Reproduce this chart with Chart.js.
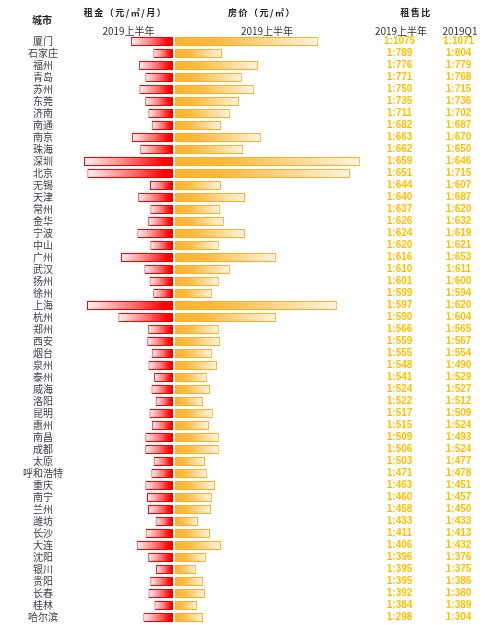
<!DOCTYPE html>
<html>
<head>
<meta charset="utf-8">
<script src="https://cdn.jsdelivr.net/npm/chart.js@4/dist/chart.umd.min.js"></script>
<style>
  html, body { margin: 0; padding: 0; background: #fff; }
  #wrap { position: relative; width: 485px; height: 625px; }
</style>
</head>
<body>
<div id="wrap"><canvas id="canvas"></canvas></div>
<script>
// city list, top to bottom
const cities = ["厦门", "石家庄", "福州", "青岛", "苏州", "东莞", "济南", "南通", "南京", "珠海",
  "深圳", "北京", "无锡", "天津", "常州", "金华", "宁波", "中山", "广州", "武汉",
  "扬州", "徐州", "上海", "杭州", "郑州", "西安", "烟台", "泉州", "泰州", "威海",
  "洛阳", "昆明", "惠州", "南昌", "成都", "太原", "呼和浩特", "重庆", "南宁", "兰州",
  "潍坊", "长沙", "大连", "沈阳", "银川", "贵阳", "长春", "桂林", "哈尔滨"];

// rent, yuan / m2 / month (2019 H1)
const rent = [42.1, 19.6, 33.9, 27.6, 33.6, 27.7, 24.6, 21.3, 41.1, 32.7,
  89.0, 85.6, 23.0, 34.8, 22.6, 24.8, 35.6, 22.6, 52.0, 28.6,
  23.4, 19.7, 86.0, 54.6, 24.8, 25.7, 21.3, 24.5, 18.9, 21.5,
  17.3, 23.5, 21.2, 27.6, 27.7, 19.3, 21.6, 27.6, 26.0, 25.0,
  17.4, 27.4, 36.3, 24.8, 17.1, 22.7, 24.5, 18.5, 29.6];

// house price, yuan / m2 (2019 H1)
const price = [45300, 14900, 26300, 21200, 25000, 20300, 17400, 14600, 27300, 21600,
  58600, 55500, 14600, 22200, 14300, 15500, 22200, 13900, 32000, 17400,
  13900, 11700, 51400, 32000, 13900, 14300, 11700, 13300, 10100, 11100,
  8900, 12000, 10800, 13900, 13900, 9500, 10100, 12700, 11700, 11400,
  7300, 11100, 14600, 9800, 6700, 8900, 9500, 7000, 8900];

// rent-to-price ratio, 1 : n
const ratioH1 = [1075, 789, 776, 771, 750, 735, 711, 682, 663, 662,
  659, 651, 644, 640, 637, 626, 624, 620, 616, 610,
  601, 599, 597, 590, 566, 559, 555, 548, 541, 524,
  522, 517, 515, 509, 506, 503, 471, 463, 460, 458,
  433, 411, 406, 396, 395, 395, 392, 384, 298];
const ratioQ1 = [1071, 804, 779, 768, 715, 736, 702, 687, 670, 650,
  646, 715, 607, 687, 620, 632, 619, 621, 653, 611,
  600, 594, 620, 604, 565, 567, 554, 490, 529, 527,
  512, 509, 524, 493, 524, 477, 478, 451, 457, 450,
  433, 413, 432, 376, 375, 386, 380, 389, 304];

const CJK = '"Noto Sans CJK SC", "Liberation Sans", sans-serif';
const LAT = '"Liberation Sans", Arial, sans-serif';
const GOLD = "#FFC000";

// gradient per bar, built from the bar's own span on its scale
function rentFill(c) {
  const chart = c.chart;
  if (c.type !== "data" || !chart.chartArea) return "#ff0000";
  const s = chart.scales.xr;
  const a = s.getPixelForValue(c.raw), b = s.getPixelForValue(0);
  const g = chart.ctx.createLinearGradient(a, 0, b, 0);
  g.addColorStop(0, "#fff4f4");
  g.addColorStop(0.55, "#ff6a6a");
  g.addColorStop(0.9, "#ff0000");
  g.addColorStop(1, "#ff0000");
  return g;
}
function priceFill(c) {
  const chart = c.chart;
  if (c.type !== "data" || !chart.chartArea) return "#fdb42c";
  const s = chart.scales.xp;
  const a = s.getPixelForValue(0), b = s.getPixelForValue(c.raw);
  const g = chart.ctx.createLinearGradient(a, 0, b, 0);
  g.addColorStop(0, "#fdb22a");
  g.addColorStop(0.3, "#fdbb41");
  g.addColorStop(1, "#fff4e2");
  return g;
}

// header texts above the columns
const headers = {
  id: "headers",
  afterDraw(chart) {
    const ctx = chart.ctx;
    const {y, xr, xp, r1, r2} = chart.scales;
    ctx.save();
    ctx.textAlign = "center";
    ctx.textBaseline = "middle";
    ctx.fillStyle = "#222";
    ctx.font = "bold 10px " + CJK;
    ctx.fillText("城市", (y.left + y.right) / 2, 20);
    ctx.font = "bold 9px " + CJK;
    ctx.letterSpacing = "1.5px";
    ctx.fillText("租金（元/㎡/月）", (xr.left + xr.right) / 2 - 4, 13);
    ctx.fillText("房价（元/㎡）", (xp.left + xp.right) / 2 - 8, 13);
    ctx.fillText("租售比", r1.right - 15, 13);
    ctx.letterSpacing = "0px";
    ctx.fillStyle = "#333";
    ctx.font = "10px " + CJK;
    ctx.fillText("2019上半年", (xr.left + xr.right) / 2 - 1, 31);
    ctx.fillText("2019上半年", (xp.left + xp.right) / 2 - 3, 31);
    ctx.fillText("2019上半年", r1.left + 36, 31);
    ctx.fillText("2019Q1", r2.left + 29, 31);
    ctx.restore();
  }
};

function noPad(scale) {
  scale.paddingTop = 0;
  scale.paddingBottom = 0;
}

const options = {
  type: "bar",
  data: {
    labels: cities,
    datasets: [
      {
        data: rent,
        xAxisID: "xr",
        backgroundColor: rentFill,
        borderColor: "#ff0000",
        borderWidth: 1,
        grouped: false,
        barPercentage: 0.76,
        categoryPercentage: 1
      },
      {
        data: price,
        xAxisID: "xp",
        backgroundColor: priceFill,
        borderColor: "#f8b02c",
        borderWidth: 1,
        grouped: false,
        barPercentage: 0.76,
        categoryPercentage: 1
      }
    ]
  },
  options: {
    indexAxis: "y",
    responsive: true,
    maintainAspectRatio: false,
    animation: false,
    layout: { padding: { top: 35.5, bottom: 1.5, left: 0, right: 0 } },
    plugins: {
      legend: { display: false },
      tooltip: { enabled: false }
    },
    scales: {
      xr: {
        type: "linear", position: "bottom", display: false,
        reverse: true, min: -2, max: 89,
        stack: "cols", stackWeight: 91, weight: 0
      },
      xp: {
        type: "linear", position: "bottom", display: false,
        min: 0, max: 60230,
        stack: "cols", stackWeight: 190, weight: 1
      },
      y: {
        position: "left",
        grid: { display: false },
        border: { display: false },
        ticks: {
          autoSkip: false, crossAlign: "center", padding: 13,
          color: "#3c3c48", font: { family: CJK, size: 10 }
        },
        afterFit(s) { s.width = 84; noPad(s); }
      },
      r1: {
        type: "category", axis: "y", position: "right", offset: true, weight: 1,
        labels: ratioH1.map(v => "1:" + v),
        grid: { display: false },
        border: { display: false },
        ticks: {
          autoSkip: false, crossAlign: "center", padding: 11,
          color: GOLD, font: { family: LAT, size: 10, weight: "bold" }
        },
        afterFit(s) { s.width = 66; noPad(s); }
      },
      r2: {
        type: "category", axis: "y", position: "right", offset: true, weight: 2,
        labels: ratioQ1.map(v => "1:" + v),
        grid: { display: false },
        border: { display: false },
        ticks: {
          autoSkip: false, crossAlign: "center", padding: 4,
          color: GOLD, font: { family: LAT, size: 10, weight: "bold" }
        },
        afterFit(s) { s.width = 54; noPad(s); }
      }
    }
  },
  plugins: [headers]
};

const ctx = document.getElementById("canvas").getContext("2d");
window.myChart = new Chart(ctx, options);
</script>
</body>
</html>
